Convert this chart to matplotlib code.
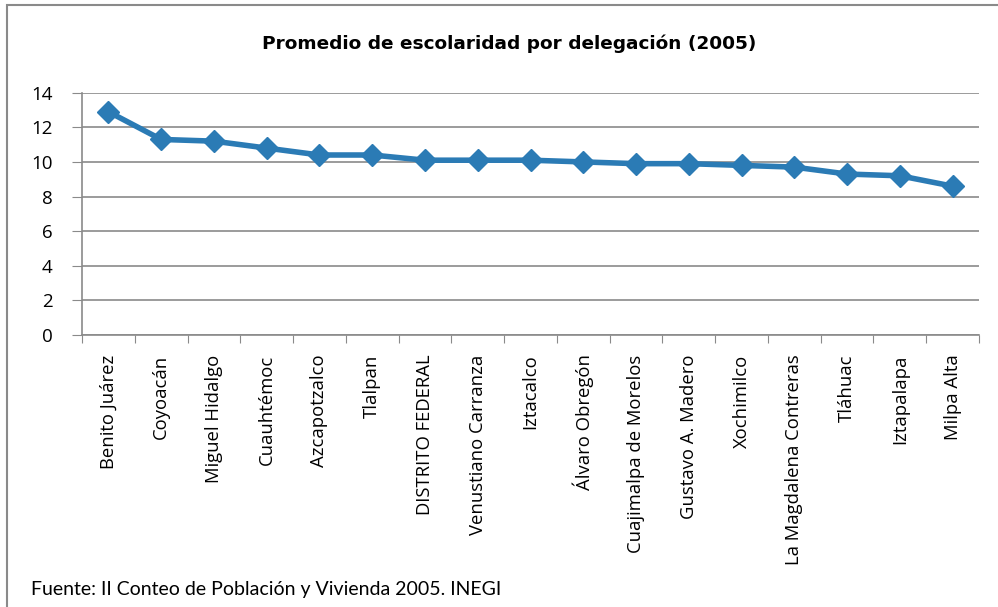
import matplotlib
matplotlib.use("Agg")
import matplotlib.pyplot as plt
from matplotlib.patches import Rectangle
from matplotlib.ticker import FixedLocator

categories = ["Benito Juárez", "Coyoacán", "Miguel Hidalgo", "Cuauhtémoc",
              "Azcapotzalco", "Tlalpan", "DISTRITO FEDERAL", "Venustiano Carranza",
              "Iztacalco", "Álvaro Obregón", "Cuajimalpa de Morelos", "Gustavo A. Madero",
              "Xochimilco", "La Magdalena Contreras", "Tláhuac", "Iztapalapa", "Milpa Alta"]
values = [12.9, 11.3, 11.2, 10.8, 10.4, 10.4, 10.1, 10.1, 10.1, 10.0, 9.9, 9.9,
          9.8, 9.7, 9.3, 9.2, 8.6]
yticks = [0, 2, 4, 6, 8, 10, 12, 14]

plt.rcParams['font.family'] = ['Open Sans', 'DejaVu Sans']

fig = plt.figure(figsize=(9.98, 6.07), dpi=100)
ax = fig.add_axes([82/998, 1-335/607, (979-82)/998, (335-92.7)/607])

x = list(range(len(categories)))
ax.plot(x, values, color='#2B7BB5', lw=4, marker='D', markersize=11,
        markerfacecolor='#2B7BB5', markeredgecolor='#2B7BB5', zorder=3)

ax.set_xlim(-0.5, len(categories) - 0.5)
ax.set_ylim(0, 14)
ax.set_yticks(yticks)
ax.set_yticklabels([str(v) for v in yticks], fontsize=13.5)
ax.grid(axis='y', color='#8a8a8a', lw=1.2)
ax.set_axisbelow(True)

ax.xaxis.set_major_locator(FixedLocator([i - 0.5 for i in range(len(categories) + 1)]))
ax.xaxis.set_major_formatter(plt.NullFormatter())
ax.xaxis.set_minor_locator(FixedLocator(x))
ax.set_xticklabels(categories, minor=True, rotation=90, fontsize=13.3)
ax.tick_params(axis='x', which='major', length=6, color='#8a8a8a', direction='out')
ax.tick_params(axis='x', which='minor', length=0, pad=14)
ax.tick_params(axis='y', length=7, color='#8a8a8a', pad=14)

for s in ['top', 'right']:
    ax.spines[s].set_visible(False)
for s in ['left', 'bottom']:
    ax.spines[s].set_color('#8a8a8a')
    ax.spines[s].set_linewidth(1.2)

fig.text(509/998, 1-44/607, "Promedio de escolaridad por delegación (2005)",
         ha='center', va='center', fontsize=13.3, fontweight='bold',
         family=['DejaVu Sans'])
fig.text(31/998, 1-590/607, "Fuente: II Conteo de Población y Vivienda 2005. INEGI",
         ha='left', va='center', fontsize=14, family=['Lato', 'DejaVu Sans'])

fig.patches.append(Rectangle((7/998, -0.1), 1.2, 1.1 - 5/607, transform=fig.transFigure,
                             fill=False, edgecolor='#8a8a8a', lw=1.5))

fig.savefig("out.png", dpi=100)
